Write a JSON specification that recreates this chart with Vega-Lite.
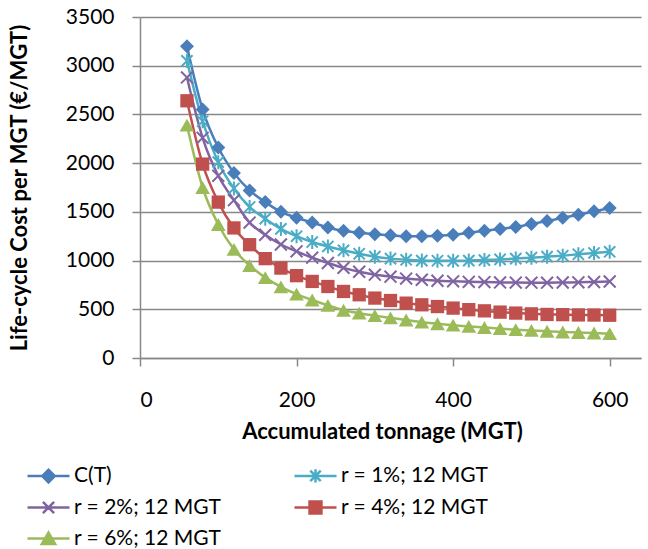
{
  "$schema": "https://vega.github.io/schema/vega-lite/v6.json",
  "width": 501,
  "height": 341,
  "autosize": "none",
  "padding": {"left": 140, "top": 17, "right": 7, "bottom": 191},
  "background": "white",
  "config": {"view": {"stroke": null}, "font": "Lato"},
  "data": {"values": [
    {"t":60,"s":"C(T)","v":3200},{"t":80,"s":"C(T)","v":2550},{"t":100,"s":"C(T)","v":2160},{"t":120,"s":"C(T)","v":1900},{"t":140,"s":"C(T)","v":1720},{"t":160,"s":"C(T)","v":1600},{"t":180,"s":"C(T)","v":1500},{"t":200,"s":"C(T)","v":1440},{"t":220,"s":"C(T)","v":1390},{"t":240,"s":"C(T)","v":1340},{"t":260,"s":"C(T)","v":1305},{"t":280,"s":"C(T)","v":1285},{"t":300,"s":"C(T)","v":1270},{"t":320,"s":"C(T)","v":1260},{"t":340,"s":"C(T)","v":1250},{"t":360,"s":"C(T)","v":1250},{"t":380,"s":"C(T)","v":1255},{"t":400,"s":"C(T)","v":1265},{"t":420,"s":"C(T)","v":1285},{"t":440,"s":"C(T)","v":1305},{"t":460,"s":"C(T)","v":1325},{"t":480,"s":"C(T)","v":1345},{"t":500,"s":"C(T)","v":1375},{"t":520,"s":"C(T)","v":1405},{"t":540,"s":"C(T)","v":1440},{"t":560,"s":"C(T)","v":1470},{"t":580,"s":"C(T)","v":1505},{"t":600,"s":"C(T)","v":1540},
    {"t":60,"s":"r = 1%; 12 MGT","v":3050},{"t":80,"s":"r = 1%; 12 MGT","v":2430},{"t":100,"s":"r = 1%; 12 MGT","v":2010},{"t":120,"s":"r = 1%; 12 MGT","v":1740},{"t":140,"s":"r = 1%; 12 MGT","v":1550},{"t":160,"s":"r = 1%; 12 MGT","v":1430},{"t":180,"s":"r = 1%; 12 MGT","v":1325},{"t":200,"s":"r = 1%; 12 MGT","v":1250},{"t":220,"s":"r = 1%; 12 MGT","v":1190},{"t":240,"s":"r = 1%; 12 MGT","v":1145},{"t":260,"s":"r = 1%; 12 MGT","v":1105},{"t":280,"s":"r = 1%; 12 MGT","v":1070},{"t":300,"s":"r = 1%; 12 MGT","v":1040},{"t":320,"s":"r = 1%; 12 MGT","v":1020},{"t":340,"s":"r = 1%; 12 MGT","v":1008},{"t":360,"s":"r = 1%; 12 MGT","v":1000},{"t":380,"s":"r = 1%; 12 MGT","v":998},{"t":400,"s":"r = 1%; 12 MGT","v":997},{"t":420,"s":"r = 1%; 12 MGT","v":1000},{"t":440,"s":"r = 1%; 12 MGT","v":1005},{"t":460,"s":"r = 1%; 12 MGT","v":1012},{"t":480,"s":"r = 1%; 12 MGT","v":1020},{"t":500,"s":"r = 1%; 12 MGT","v":1030},{"t":520,"s":"r = 1%; 12 MGT","v":1040},{"t":540,"s":"r = 1%; 12 MGT","v":1050},{"t":560,"s":"r = 1%; 12 MGT","v":1065},{"t":580,"s":"r = 1%; 12 MGT","v":1078},{"t":600,"s":"r = 1%; 12 MGT","v":1090},
    {"t":60,"s":"r = 2%; 12 MGT","v":2880},{"t":80,"s":"r = 2%; 12 MGT","v":2260},{"t":100,"s":"r = 2%; 12 MGT","v":1870},{"t":120,"s":"r = 2%; 12 MGT","v":1620},{"t":140,"s":"r = 2%; 12 MGT","v":1390},{"t":160,"s":"r = 2%; 12 MGT","v":1265},{"t":180,"s":"r = 2%; 12 MGT","v":1165},{"t":200,"s":"r = 2%; 12 MGT","v":1095},{"t":220,"s":"r = 2%; 12 MGT","v":1030},{"t":240,"s":"r = 2%; 12 MGT","v":975},{"t":260,"s":"r = 2%; 12 MGT","v":925},{"t":280,"s":"r = 2%; 12 MGT","v":885},{"t":300,"s":"r = 2%; 12 MGT","v":855},{"t":320,"s":"r = 2%; 12 MGT","v":835},{"t":340,"s":"r = 2%; 12 MGT","v":815},{"t":360,"s":"r = 2%; 12 MGT","v":803},{"t":380,"s":"r = 2%; 12 MGT","v":793},{"t":400,"s":"r = 2%; 12 MGT","v":787},{"t":420,"s":"r = 2%; 12 MGT","v":782},{"t":440,"s":"r = 2%; 12 MGT","v":779},{"t":460,"s":"r = 2%; 12 MGT","v":776},{"t":480,"s":"r = 2%; 12 MGT","v":774},{"t":500,"s":"r = 2%; 12 MGT","v":773},{"t":520,"s":"r = 2%; 12 MGT","v":773},{"t":540,"s":"r = 2%; 12 MGT","v":775},{"t":560,"s":"r = 2%; 12 MGT","v":777},{"t":580,"s":"r = 2%; 12 MGT","v":780},{"t":600,"s":"r = 2%; 12 MGT","v":785},
    {"t":60,"s":"r = 4%; 12 MGT","v":2640},{"t":80,"s":"r = 4%; 12 MGT","v":1990},{"t":100,"s":"r = 4%; 12 MGT","v":1600},{"t":120,"s":"r = 4%; 12 MGT","v":1335},{"t":140,"s":"r = 4%; 12 MGT","v":1163},{"t":160,"s":"r = 4%; 12 MGT","v":1020},{"t":180,"s":"r = 4%; 12 MGT","v":923},{"t":200,"s":"r = 4%; 12 MGT","v":845},{"t":220,"s":"r = 4%; 12 MGT","v":786},{"t":240,"s":"r = 4%; 12 MGT","v":734},{"t":260,"s":"r = 4%; 12 MGT","v":683},{"t":280,"s":"r = 4%; 12 MGT","v":649},{"t":300,"s":"r = 4%; 12 MGT","v":615},{"t":320,"s":"r = 4%; 12 MGT","v":590},{"t":340,"s":"r = 4%; 12 MGT","v":563},{"t":360,"s":"r = 4%; 12 MGT","v":546},{"t":380,"s":"r = 4%; 12 MGT","v":528},{"t":400,"s":"r = 4%; 12 MGT","v":512},{"t":420,"s":"r = 4%; 12 MGT","v":496},{"t":440,"s":"r = 4%; 12 MGT","v":484},{"t":460,"s":"r = 4%; 12 MGT","v":471},{"t":480,"s":"r = 4%; 12 MGT","v":461},{"t":500,"s":"r = 4%; 12 MGT","v":453},{"t":520,"s":"r = 4%; 12 MGT","v":447},{"t":540,"s":"r = 4%; 12 MGT","v":445},{"t":560,"s":"r = 4%; 12 MGT","v":442},{"t":580,"s":"r = 4%; 12 MGT","v":441},{"t":600,"s":"r = 4%; 12 MGT","v":439},
    {"t":60,"s":"r = 6%; 12 MGT","v":2390},{"t":80,"s":"r = 6%; 12 MGT","v":1750},{"t":100,"s":"r = 6%; 12 MGT","v":1370},{"t":120,"s":"r = 6%; 12 MGT","v":1115},{"t":140,"s":"r = 6%; 12 MGT","v":950},{"t":160,"s":"r = 6%; 12 MGT","v":825},{"t":180,"s":"r = 6%; 12 MGT","v":730},{"t":200,"s":"r = 6%; 12 MGT","v":655},{"t":220,"s":"r = 6%; 12 MGT","v":595},{"t":240,"s":"r = 6%; 12 MGT","v":540},{"t":260,"s":"r = 6%; 12 MGT","v":490},{"t":280,"s":"r = 6%; 12 MGT","v":460},{"t":300,"s":"r = 6%; 12 MGT","v":435},{"t":320,"s":"r = 6%; 12 MGT","v":412},{"t":340,"s":"r = 6%; 12 MGT","v":390},{"t":360,"s":"r = 6%; 12 MGT","v":368},{"t":380,"s":"r = 6%; 12 MGT","v":352},{"t":400,"s":"r = 6%; 12 MGT","v":337},{"t":420,"s":"r = 6%; 12 MGT","v":324},{"t":440,"s":"r = 6%; 12 MGT","v":313},{"t":460,"s":"r = 6%; 12 MGT","v":301},{"t":480,"s":"r = 6%; 12 MGT","v":291},{"t":500,"s":"r = 6%; 12 MGT","v":283},{"t":520,"s":"r = 6%; 12 MGT","v":274},{"t":540,"s":"r = 6%; 12 MGT","v":267},{"t":560,"s":"r = 6%; 12 MGT","v":262},{"t":580,"s":"r = 6%; 12 MGT","v":256},{"t":600,"s":"r = 6%; 12 MGT","v":250}
  ]},
  "encoding": {
    "x": {"field": "t", "type": "quantitative", "scale": {"domain": [0, 640], "nice": false},
      "axis": {"values": [0, 200, 400, 600], "grid": false, "title": "Accumulated tonnage (MGT)", "format": "d",
        "domainColor": "#888888", "domainWidth": 1.5, "tickColor": "#888888", "tickWidth": 1.5, "tickSize": 8,
        "labelFont": "Lato", "labelFontSize": 21, "labelColor": "black", "labelPadding": 23,
        "titleFont": "Lato", "titleFontSize": 22, "titleFontWeight": "bold", "titleColor": "black", "titlePadding": 11, "titleX": 242}},
    "y": {"field": "v", "type": "quantitative", "scale": {"domain": [0, 3500], "nice": false},
      "axis": {"values": [0, 500, 1000, 1500, 2000, 2500, 3000, 3500], "grid": true, "gridColor": "#888888", "gridWidth": 1.5,
        "title": "Life-cycle Cost per MGT (€/MGT)", "format": "d",
        "domainColor": "#888888", "domainWidth": 1.5, "tickColor": "#888888", "tickWidth": 1.5, "tickSize": 8,
        "labelFont": "Lato", "labelFontSize": 21, "labelColor": "black", "labelPadding": 18,
        "titleFont": "Lato", "titleFontSize": 22, "titleFontWeight": "bold", "titleColor": "black", "titlePadding": 34}}
  },
  "layer": [
    {
      "mark": {"type": "line", "strokeWidth": 2.5, "interpolate": "monotone"},
      "encoding": {
        "color": {"field": "s", "type": "nominal",
          "scale": {"domain": ["C(T)", "r = 2%; 12 MGT", "r = 6%; 12 MGT", "r = 1%; 12 MGT", "r = 4%; 12 MGT"],
                    "range": ["#4a7ebb", "#8064a2", "#9bbb59", "#4bacc6", "#c0504d"]},
          "legend": {"orient": "none", "legendX": -102, "legendY": 448, "columns": 2, "title": null, "padding": 0,
            "symbolSize": 196, "symbolStrokeWidth": 2.5, "labelFont": "Lato", "labelFontSize": 21, "labelColor": "black",
            "labelOffset": 15, "columnPadding": 67, "rowPadding": 8, "labelLimit": 300,
            "encode": {"symbols": {"update": {
              "shape": {"signal": "datum.value === 'C(T)' ? 'M-3,0H3M-0.9,0L0,-0.9L0.9,0L0,0.9Z' : datum.value === 'r = 1%; 12 MGT' ? 'M-3,0H3M-0.75,-0.75L0.75,0.75M-0.75,0.75L0.75,-0.75M0,-0.95V0.95' : datum.value === 'r = 2%; 12 MGT' ? 'M-3,0H3M-0.8,-0.8L0.8,0.8M-0.8,0.8L0.8,-0.8' : datum.value === 'r = 4%; 12 MGT' ? 'M-3,0H3M-0.85,-0.85H0.85V0.85H-0.85Z' : 'M-3,0H3M0,-0.85L0.95,0.8H-0.95Z'"},
              "fill": {"signal": "(datum.value === 'r = 1%; 12 MGT' || datum.value === 'r = 2%; 12 MGT') ? 'transparent' : scale('color', datum.value)"},
              "stroke": {"signal": "scale('color', datum.value)"},
              "strokeWidth": {"value": 2.5}
            }}}}
        }
      }
    },
    {
      "transform": [{"filter": "datum.s === 'C(T)' || datum.s === 'r = 4%; 12 MGT' || datum.s === 'r = 6%; 12 MGT'"}],
      "mark": {"type": "point", "filled": true, "opacity": 1, "size": 196},
      "encoding": {
        "color": {"field": "s", "type": "nominal", "legend": null},
        "shape": {"field": "s", "type": "nominal", "legend": null,
          "scale": {"domain": ["C(T)", "r = 4%; 12 MGT", "r = 6%; 12 MGT"],
                    "range": ["M-1,0L0,-1L1,0L0,1Z", "M-0.95,-0.95H0.95V0.95H-0.95Z", "M0,-0.92L1.05,0.92H-1.05Z"]}}
      }
    },
    {
      "transform": [{"filter": "datum.s === 'r = 1%; 12 MGT' || datum.s === 'r = 2%; 12 MGT'"}],
      "mark": {"type": "point", "filled": false, "opacity": 1, "size": 196, "strokeWidth": 2},
      "encoding": {
        "color": {"field": "s", "type": "nominal", "legend": null},
        "shape": {"field": "s", "type": "nominal", "legend": null,
          "scale": {"domain": ["r = 1%; 12 MGT", "r = 2%; 12 MGT"],
                    "range": ["M-0.8,-0.8L0.8,0.8M-0.8,0.8L0.8,-0.8M0,-1V1", "M-0.85,-0.85L0.85,0.85M-0.85,0.85L0.85,-0.85"]}}
      }
    }
  ],
  "resolve": {"scale": {"shape": "independent"}}
}
